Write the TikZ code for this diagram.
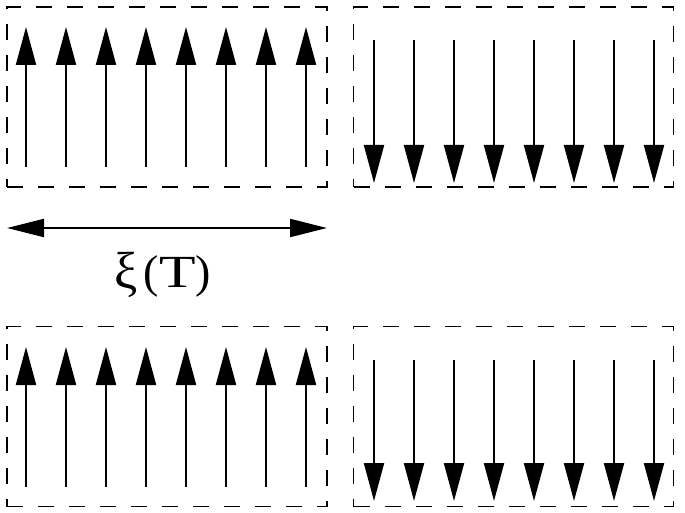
\documentclass[tikz,border=0pt]{standalone}
\usepackage{graphicx}
\usepackage{fontspec}
\setmainfont{Liberation Serif}
\usetikzlibrary{arrows.meta}
\tikzset{
  domainbox/.style={draw, dashed, dash pattern=on 16pt off 15pt, line width=1.5pt, minimum width=320pt, minimum height=180pt, inner sep=0pt},
  spin/.style={line width=2pt, -{Triangle[length=38pt,width=20pt]}},
  span/.style={line width=2pt, {Triangle[length=37pt,width=18pt]}-{Triangle[length=37pt,width=18pt]}},
  lbltext/.style={anchor=base, inner sep=0pt},
}
\begin{document}
\begin{tikzpicture}[x=1pt,y=-1pt]
\useasboundingbox (0,0) rectangle (685,513);
\node[domainbox] (tl) at (167,97) {};
\node[domainbox] (tr) at (513.5,97) {};
\node[domainbox] (bl) at (167,416.5) {};
\node[domainbox] (br) at (513.5,416.5) {};
\foreach \i in {0,...,7} {
  \draw[spin] ({26+40*\i},167) -- ({26+40*\i},27);
  \draw[spin] ({374+40*\i},40) -- ({374+40*\i},183);
  \draw[spin] ({26+40*\i},487) -- ({26+40*\i},347);
  \draw[spin] ({374+40*\i},360) -- ({374+40*\i},501);
}
\coordinate (la) at (7,228);
\coordinate (ra) at (327,228);
\draw[span] (la) -- (ra);
\node[lbltext, font=\fontsize{52}{60}\selectfont] (xi) at (126.5,288) {ξ};
\node[lbltext, font=\fontsize{46}{52}\selectfont] (arg) at (177.5,287) {(\scalebox{1.3}[1]{T})};
\end{tikzpicture}
\end{document}
